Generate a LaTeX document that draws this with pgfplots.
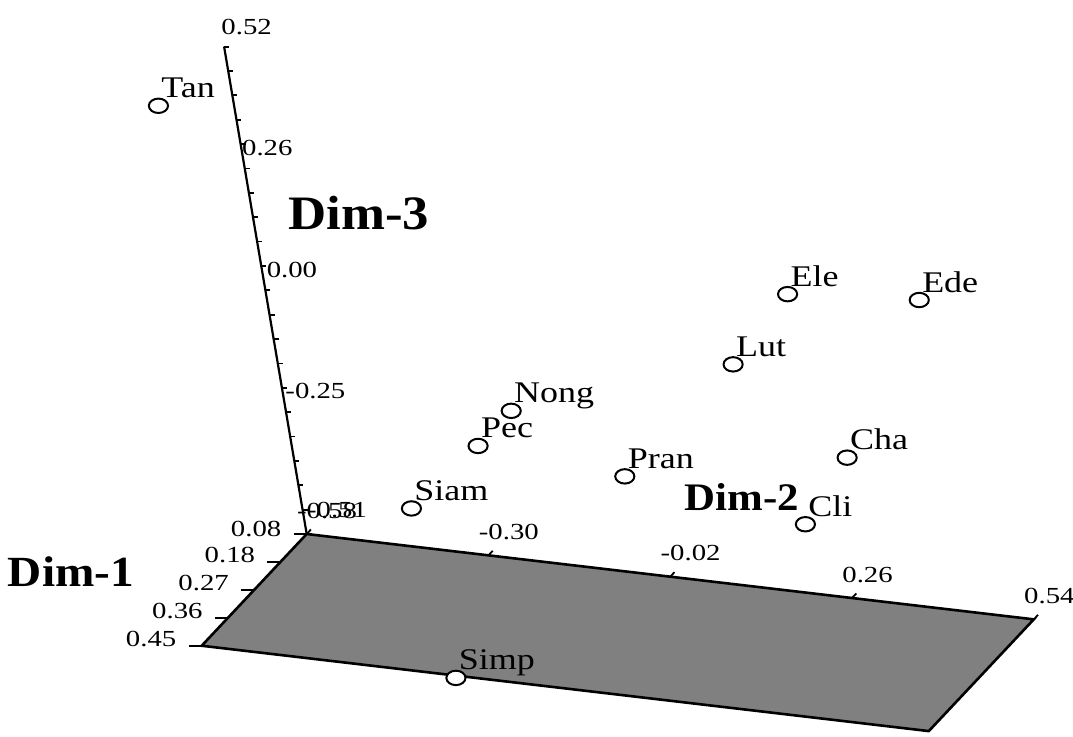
\documentclass[border=0pt]{standalone}
\usepackage{fontspec}
\setmainfont{Liberation Serif}[FakeStretch=1.25]
\newfontfamily\labfont{Liberation Serif}[FakeStretch=1.2]
\newfontfamily\titlefont{Liberation Serif}[FakeStretch=1.1]
\usepackage{pgfplots}
\pgfplotsset{compat=1.18}
\tikzset{tick lab/.style={font=\fontsize{11.5}{11.5}\selectfont, inner sep=0pt}}

% MDS points: Dim-2 (x), Dim-1 (y), Dim-3 (z)
\pgfplotstableread{
d2      d1     d3      label
-0.591  0.285  0.524   Tan
 0.266  0.13   0.165   Ele
 0.524  0.23   0.258   Ede
 0.188  0.18   0.036   Lut
-0.210  0.11  -0.171   Nong
-0.224  0.20  -0.190   Pec
 0.395  0.28  -0.064   Cha
 0.009  0.22  -0.204   Pran
-0.377  0.14  -0.385   Siam
 0.338  0.33  -0.182   Cli
-0.189  0.45  -0.515   Simp
}\mdspoints

\begin{document}
\begin{tikzpicture}
\begin{axis}[
    x={(324.6pt,-38.1pt)}, y={(-141.9pt,-151.0pt)}, z={(-40.1pt,236.6pt)},
    xmin=-0.58, xmax=0.54, ymin=0.08, ymax=0.45, zmin=-0.51, zmax=0.52,
    clip=false,
    axis lines=none,
]
% floor (Dim-2 and Dim-1 axes are its back and left edges)
\addplot3[fill=gray, draw=black, line width=1.3pt] coordinates {
    (-0.58,0.08,-0.51) (0.54,0.08,-0.51) (0.54,0.45,-0.51) (-0.58,0.45,-0.51)
} -- cycle;
% Dim-3 axis
\addplot3[black, line width=1.1pt] coordinates {(-0.58,0.08,-0.51) (-0.58,0.08,0.52)};

% ticks
\pgfplotsinvokeforeach{0,...,20}{
    \draw[line width=0.9pt] (axis cs:-0.58,0.08,{-0.51+#1*0.0515})
        -- ([xshift=2.5pt]axis cs:-0.58,0.08,{-0.51+#1*0.0515});
}
\pgfplotsinvokeforeach{-0.58,-0.30,-0.02,0.26,0.54}{
    \draw[line width=0.9pt] (axis cs:#1,0.08,-0.51) -- (axis cs:#1,0.065,-0.51);
}
\pgfplotsinvokeforeach{0.08,0.1725,0.265,0.3575,0.45}{
    \draw[line width=0.9pt] (axis cs:-0.58,#1,-0.51) -- ([xshift=-6.5pt]axis cs:-0.58,#1,-0.51);
}

% tick labels
\node[tick lab, anchor=south west, xshift=-5pt, yshift=7.5pt] at (axis cs:-0.58,0.08,-0.51) {-0.58};
\node[tick lab, anchor=south west, xshift=-5pt, yshift=7.5pt] at (axis cs:-0.30,0.08,-0.51) {-0.30};
\node[tick lab, anchor=south west, xshift=-5pt, yshift=7.5pt] at (axis cs:-0.02,0.08,-0.51) {-0.02};
\node[tick lab, anchor=south west, xshift=-5pt, yshift=7.5pt] at (axis cs:0.26,0.08,-0.51) {0.26};
\node[tick lab, anchor=south west, xshift=-5pt, yshift=7.5pt] at (axis cs:0.54,0.08,-0.51) {0.54};

\node[tick lab, anchor=east, xshift=-12.5pt, yshift=2.5pt] at (axis cs:-0.58,0.08,-0.51) {0.08};
\node[tick lab, anchor=east, xshift=-12.5pt, yshift=3.5pt] at (axis cs:-0.58,0.1725,-0.51) {0.18};
\node[tick lab, anchor=east, xshift=-12.5pt, yshift=3.5pt] at (axis cs:-0.58,0.265,-0.51) {0.27};
\node[tick lab, anchor=east, xshift=-12.5pt, yshift=3.5pt] at (axis cs:-0.58,0.3575,-0.51) {0.36};
\node[tick lab, anchor=east, xshift=-12.5pt, yshift=3.5pt] at (axis cs:-0.58,0.45,-0.51) {0.45};

\node[tick lab, anchor=west, xshift=0pt, yshift=12pt] at (axis cs:-0.58,0.08,-0.51) {-0.51};
\node[tick lab, anchor=west, xshift=-0.5pt, yshift=10.5pt] at (axis cs:-0.58,0.08,-0.2525) {-0.25};
\node[tick lab, anchor=west, xshift=0.5pt, yshift=10pt] at (axis cs:-0.58,0.08,0.005) {0.00};
\node[tick lab, anchor=west, xshift=-1.5pt, yshift=10pt] at (axis cs:-0.58,0.08,0.2625) {0.26};
\node[tick lab, anchor=west, xshift=-1.5pt, yshift=10pt] at (axis cs:-0.58,0.08,0.52) {0.52};

% points
\addplot3[only marks, mark=*, mark size=3.6pt,
    mark options={xscale=1.33, fill=white, draw=black, line width=1pt},
    nodes near coords, point meta=explicit symbolic,
    every node near coord/.append style={anchor=base west, inner sep=0pt,
        xshift=1pt, yshift=4pt, font=\labfont\fontsize{15}{15}\selectfont, black},
] table[x=d2, y=d1, z=d3, meta=label] {\mdspoints};
\coordinate (O) at (axis cs:-0.58,0.08,-0.51);
\end{axis}
\node[font=\titlefont\bfseries\fontsize{24}{24}\selectfont] at ([shift={(26.15pt,160.25pt)}]O) {Dim-3};
\node[font=\titlefont\bfseries\fontsize{21.5}{21.5}\selectfont] at ([shift={(-117.85pt,-18.85pt)}]O) {Dim-1};
\node[font=\titlefont\bfseries\fontsize{19.5}{19.5}\selectfont] at ([shift={(217.65pt,18.25pt)}]O) {Dim-2};
\pgfresetboundingbox
\path ([shift={(-153.35pt,-101pt)}]O) rectangle ([shift={(383.15pt,267pt)}]O);
\end{tikzpicture}
\end{document}
